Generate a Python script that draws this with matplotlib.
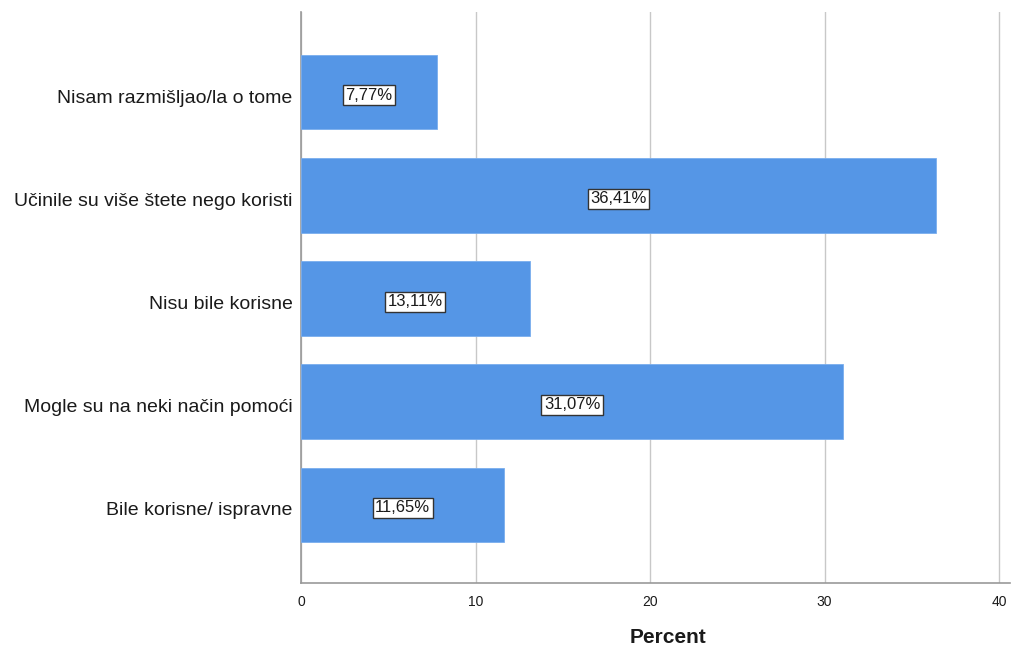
import numpy as np
import matplotlib.pyplot as plt

plt.rcParams['font.family'] = ['Liberation Sans', 'DejaVu Sans']

categories = [
    "Bile korisne/ ispravne",
    "Mogle su na neki način pomoći",
    "Nisu bile korisne",
    "Učinile su više štete nego koristi",
    "Nisam razmišljao/la o tome",
]
percent = [11.65, 31.07, 13.11, 36.41, 7.77]
labels = ["11,65%", "31,07%", "13,11%", "36,41%", "7,77%"]

fig = plt.figure(figsize=(10.24, 6.48), dpi=100)
ax = fig.add_axes([301 / 1024, 1 - 583 / 648, (1010 - 301) / 1024, (583 - 12) / 648])

y = np.arange(len(categories))
ax.barh(y, percent, height=0.72, color="#5596e6", edgecolor="#7aaeee", linewidth=0.6, zorder=3)

for yi, v, lab in zip(y, percent, labels):
    ax.text(v / 2, yi - 0.03, lab, ha="center", va="center", fontsize=12, color="#1a1a1a", zorder=4,
            bbox=dict(boxstyle="square,pad=0.15", facecolor="white", edgecolor="#333333", linewidth=1))

ax.set_xlim(0, 40.63)
ax.set_ylim(-0.76, 4.78)
ax.set_xticks([0, 10, 20, 30, 40])
ax.set_yticks(y - 0.04)
ax.set_yticklabels(categories, fontsize=14, color="#1a1a1a")
ax.tick_params(axis="y", length=0, pad=6)
ax.tick_params(axis="x", length=0, pad=9, labelsize=10, colors="#1a1a1a")
ax.xaxis.grid(True, color="#c8c8c8", linewidth=1, zorder=0)
ax.set_axisbelow(True)

for s in ["top", "right"]:
    ax.spines[s].set_visible(False)
ax.spines["left"].set_color("#999999")
ax.spines["bottom"].set_color("#999999")
ax.spines["left"].set_linewidth(1.2)
ax.spines["bottom"].set_linewidth(1.2)

ax.set_xlabel("Percent", fontsize=15, fontweight="bold", color="#1a1a1a")
ax.xaxis.label.set_verticalalignment("center")
ax.xaxis.set_label_coords(0.518, -0.096)

fig.savefig("out.png", dpi=100)
